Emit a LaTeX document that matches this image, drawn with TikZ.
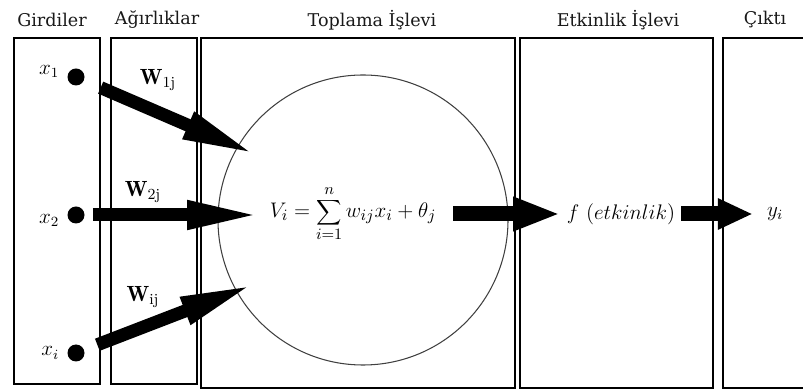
\documentclass[tikz,border=0pt]{standalone}
\usepackage{fontspec}
\newfontfamily\headfont{DejaVu Serif}
\usetikzlibrary{arrows.meta,positioning}
\tikzset{
  panel/.style={draw, line width=1.3pt, anchor=north west, inner sep=0pt},
  heading/.style={font=\headfont\fontsize{10}{12}\selectfont, text=black!90},
  indot/.style={circle, fill, inner sep=0pt, minimum size=0.34cm},
  wlabel/.style={font=\fontsize{12.5}{14}\selectfont},
  mathlbl/.style={font=\fontsize{12}{14}\selectfont},
  fatarrow/.style={line width=0.26cm, -{Triangle[length=1.5cm, width=0.52cm]}},
  bigarrow/.style={line width=0.3cm, -{Triangle[length=0.95cm, width=0.62cm]}},
}
\begin{document}
\begin{tikzpicture}
   \useasboundingbox (0,0) rectangle (16.06,7.8);
   % panels
   \node[panel, minimum width=1.72cm, minimum height=6.92cm] (gir) at (0.26,7.06) {};
   \node[panel, minimum width=1.72cm, minimum height=6.92cm] (agr) at (2.2,7.06) {};
   \node[panel, minimum width=6.28cm, minimum height=7cm] (top) at (4,7.06) {};
   \node[panel, minimum width=3.86cm, minimum height=7cm] (etk) at (10.38,7.06) {};
   \node[panel, minimum width=2.2cm, minimum height=7cm] (cik) at (14.44,7.06) {};
   \node[heading] (hgir) at (1.04,7.4) {Girdiler};
   \node[heading] (hagr) at (3.14,7.4) {Ağırlıklar};
   \node[heading] (htop) at (7.44,7.4) {Toplama İşlevi};
   \node[heading] (hetk) at (12.36,7.4) {Etkinlik İşlevi};
   \node[heading] (hcik) at (15.3,7.4) {Çıktı};
   % inputs
   \node[indot] (d1) at (1.52,6.26) {};
   \node[indot] (d2) at (1.52,3.5) {};
   \node[indot] (di) at (1.52,0.74) {};
   \node[mathlbl, left=1pt of d1, yshift=3pt] (x1) {$x_1$};
   \node[mathlbl, left=1pt of d2, yshift=-3pt] (x2) {$x_2$};
   \node[mathlbl, left=1pt of di] (xi) {$x_i$};
   \node[wlabel] (w1) at (3.16,6.2) {$\mathbf{W}_{\mathrm{1j}}$};
   \node[wlabel] (w2) at (2.86,3.96) {$\mathbf{W}_{\mathrm{2j}}$};
   \node[wlabel] (wi) at (2.86,1.86) {$\mathbf{W}_{\mathrm{ij}}$};
   % sum, activation, output
   \node[circle, draw=black!75, line width=0.6pt, minimum size=5.8cm] (sum) at (7.26,3.4) {};
   \node[font=\fontsize{13}{15}\selectfont, inner sep=1pt] (vi) at (7.06,3.52) {$\displaystyle V_i = \sum_{i=1}^{n} w_{ij}x_i + \theta_j$};
   \node[mathlbl] (act) at (12.42,3.52) {$f\ (etkinlik)$};
   \node[mathlbl] (out) at (15.5,3.52) {$y_i$};
   \coordinate (t1) at (5.14,4.7);
   \coordinate (t2) at (5.24,3.5);
   \coordinate (ti) at (5.1,2.12);
   \draw[fatarrow, shorten <=0.36cm] (d1) -- (t1);
   \draw[fatarrow, shorten <=0.16cm] (d2) -- (t2);
   \draw[fatarrow, shorten <=0.28cm] (di) -- (ti);
   \draw[bigarrow, shorten <=0.3cm] (vi) -- (act);
   \draw[bigarrow, -{Triangle[length=0.7cm, width=0.58cm]}, shorten >=0.16cm] (act) -- (out);
\end{tikzpicture}
\end{document}
